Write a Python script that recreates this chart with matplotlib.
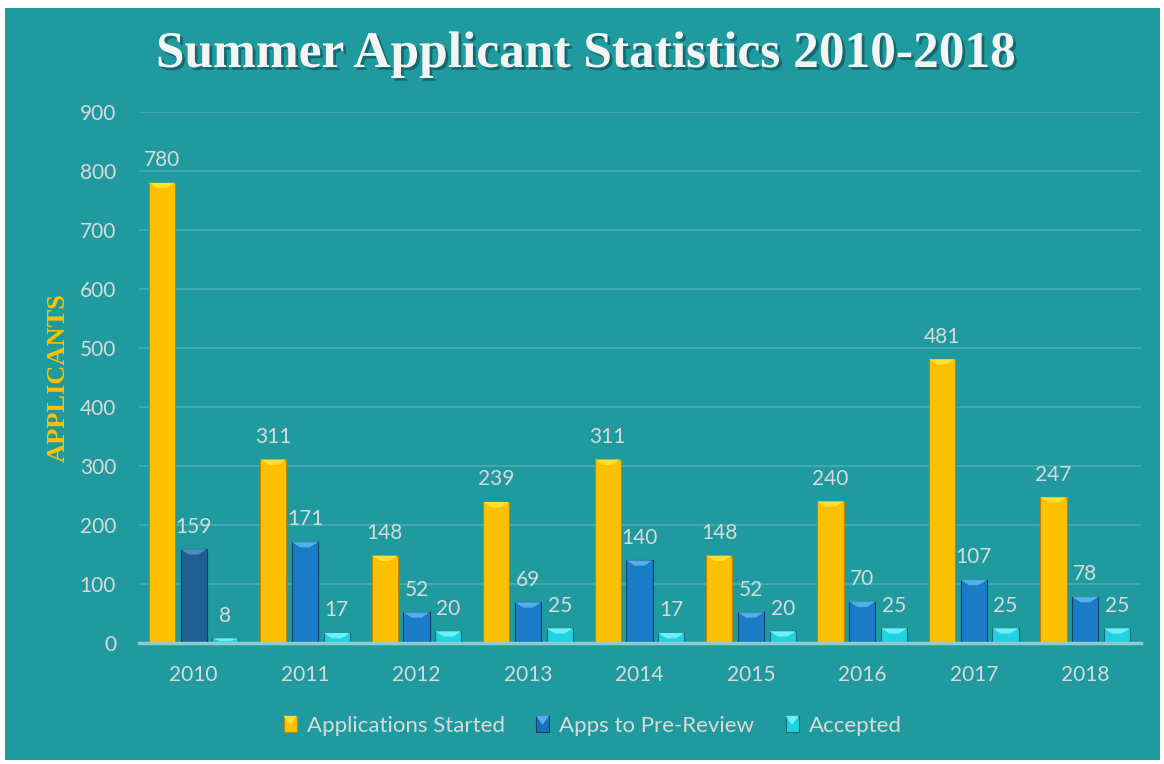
import matplotlib
matplotlib.use("Agg")
import matplotlib.pyplot as plt
import matplotlib.patheffects as pe
from matplotlib.patches import Rectangle, Polygon
from matplotlib.legend_handler import HandlerBase
import numpy as np

years = ["2010", "2011", "2012", "2013", "2014", "2015", "2016", "2017", "2018"]
applications_started = [780, 311, 148, 239, 311, 148, 240, 481, 247]
apps_to_prereview = [159, 171, 52, 69, 140, 52, 70, 107, 78]
accepted = [8, 17, 20, 25, 17, 20, 25, 25, 25]
series_names = ["Applications Started", "Apps to Pre-Review", "Accepted"]
y_ticks = [0, 100, 200, 300, 400, 500, 600, 700, 800, 900]

BG = "#1F9BA0"
LABEL = "#D9D9D9"
FONT = "Lato"

W, H = 1164, 764
fig = plt.figure(figsize=(W / 100, H / 100), dpi=100, facecolor="white")
fig.patches.append(Rectangle((5 / W, 4 / H), (1160 - 5) / W, (756 - 4) / H,
                             transform=fig.transFigure, facecolor=BG,
                             edgecolor="none", zorder=-10))

ax = fig.add_axes([139 / W, 121 / H, (1141 - 139) / W, (652 - 121) / H])
ax.set_facecolor("none")
ax.set_ylim(0, 900)
ax.set_xlim(-0.49, 8.5)

x = np.arange(len(years))
width = 0.235
offs = [-0.285, 0.0, 0.285]
face = ["#FFC000", "#1A7CC6", "#1FD3E2"]
top = ["#FFE033", "#55AEEA", "#6FF0F8"]
edge = ["#B58A00", "#0E3F66", "#0F6E78"]
special_face = {(1, 0): "#1F5F91"}
special_top = {(1, 0): "#4F8CC0"}

data = [applications_started, apps_to_prereview, accepted]
for s, vals in enumerate(data):
    for i, v in enumerate(vals):
        fc = special_face.get((s, i), face[s])
        tc = special_top.get((s, i), top[s])
        xl = x[i] + offs[s] - width / 2
        ax.add_patch(Rectangle((xl, 0), width, v, facecolor=fc,
                               edgecolor=edge[s], linewidth=0.8, zorder=3))
        bev_y = min(9.0, v * 0.6)
        bev_x = width * 0.32
        ax.add_patch(Polygon([(xl, v), (xl + width, v),
                              (xl + width - bev_x, v - bev_y),
                              (xl + bev_x, v - bev_y)],
                             closed=True, facecolor=tc, edgecolor="none",
                             zorder=4))
        ax.annotate(str(v), (x[i] + offs[s], v), xytext=(0, 12),
                    textcoords="offset points", ha="center", va="baseline",
                    color=LABEL, fontsize=15, family=FONT, zorder=5)

ax.set_yticks(y_ticks)
ax.set_xticks(x)
ax.set_xticklabels(years)
ax.grid(axis="y", color="#47AEB3", linewidth=1.2, zorder=1)
ax.set_axisbelow(True)
for sp in ["top", "right", "left"]:
    ax.spines[sp].set_visible(False)
ax.spines["bottom"].set_color("#8FCBCE")
ax.spines["bottom"].set_linewidth(2.5)
ax.spines["bottom"].set_zorder(6)
ax.tick_params(axis="both", length=0, colors=LABEL, labelsize=15)
ax.tick_params(axis="y", pad=16.5)
ax.tick_params(axis="x", pad=16)
for lab in ax.get_xticklabels() + ax.get_yticklabels():
    lab.set_family(FONT)

ax.set_ylabel("APPLICANTS", fontsize=19, fontweight="bold",
              family="Liberation Serif", color="#FFC000")
ax.yaxis.set_label_coords(-0.069, 0.5)

fig.text(0.503, 0.928, "Summer Applicant Statistics 2010-2018",
         ha="center", va="center", fontsize=37, fontweight="bold",
         family="Liberation Serif", color="#F4F4F4",
         path_effects=[pe.withSimplePatchShadow(offset=(2, -2),
                                                 shadow_rgbFace="#0C4A4D",
                                                 alpha=0.6)])


class BevelHandler(HandlerBase):
    def __init__(self, fc, tc, ec):
        super().__init__()
        self.fc, self.tc, self.ec = fc, tc, ec

    def create_artists(self, legend, orig_handle, xdescent, ydescent,
                       width, height, fontsize, trans):
        hh = height * 1.05
        ww = hh * 0.8
        x0 = xdescent + width - ww
        y0 = -ydescent + (height - hh) / 2
        r = Rectangle((x0, y0), ww, hh, facecolor=self.fc, edgecolor=self.ec,
                      linewidth=0.8, transform=trans)
        p = Polygon([(x0, y0 + hh), (x0 + ww, y0 + hh), (x0 + ww * 0.5, y0 + hh * 0.45)],
                    closed=True, facecolor=self.tc, edgecolor="none",
                    transform=trans)
        return [r, p]


handles = [Rectangle((0, 0), 1, 1) for _ in range(3)]
hmap = {handles[k]: BevelHandler(face[k] if k != 1 else "#1A6FB5", top[k], edge[k])
        for k in range(3)}
leg = fig.legend(handles, series_names, loc="center", bbox_to_anchor=(0.509, 0.05),
                 ncol=3, frameon=False, handler_map=hmap, handlelength=0.6,
                 handletextpad=0.45, columnspacing=1.4,
                 prop={"family": FONT, "size": 16})
for t in leg.get_texts():
    t.set_color(LABEL)

fig.savefig("out.png", dpi=100, facecolor="white")
